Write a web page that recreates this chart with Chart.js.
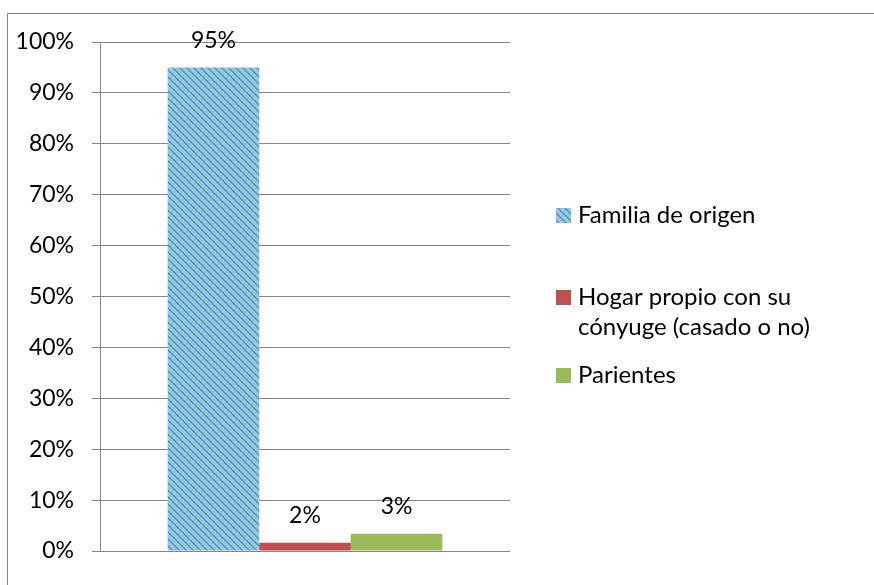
<!DOCTYPE html>
<html>
<head>
<meta charset="utf-8">
<script src="https://cdn.jsdelivr.net/npm/chart.js@4.4.1/dist/chart.umd.min.js"></script>
<style>
  body { margin: 0; background: #fff; }
  #wrap { width: 874px; height: 585px; }
</style>
</head>
<body>
<div id="wrap"><canvas id="chart" width="874" height="585"></canvas></div>
<script>
// data
const categories = [''];
const seriesNames = ['Familia de origen', 'Hogar propio con su cónyuge (casado o no)', 'Parientes'];
const familiaValues = [0.95];
const hogarValues = [0.016];
const parientesValues = [0.034];
const yTicks = [0, 0.1, 0.2, 0.3, 0.4, 0.5, 0.6, 0.7, 0.8, 0.9, 1];

const FONT = '23px Lato';
const LEGEND_FONT = '24px Lato';

function makeHatch() {
    const c = document.createElement('canvas');
    c.width = 7;
    c.height = 7;
    const g = c.getContext('2d');
    g.fillStyle = '#93cddd';
    g.fillRect(0, 0, 7, 7);
    g.strokeStyle = '#5a8fd0';
    g.lineWidth = 1.5;
    g.beginPath();
    g.moveTo(-1, -1); g.lineTo(8, 8);
    g.moveTo(-1, 6); g.lineTo(1, 8);
    g.moveTo(6, -1); g.lineTo(8, 1);
    g.stroke();
    return document.getElementById('chart').getContext('2d').createPattern(c, 'repeat');
}
const hatch = makeHatch();

// outer frame of the chart object
const framePlugin = {
    id: 'frame',
    beforeDraw(chart) {
        const ctx = chart.ctx;
        ctx.save();
        ctx.fillStyle = '#fff';
        ctx.fillRect(0, 0, chart.width, chart.height);
        ctx.strokeStyle = '#868686';
        ctx.lineWidth = 1;
        ctx.strokeRect(7.5, 13.5, 900, 600);
        ctx.restore();
    }
};

// value labels above the bars
const valueLabels = {
    id: 'valueLabels',
    afterDatasetsDraw(chart) {
        const ctx = chart.ctx;
        ctx.save();
        ctx.font = FONT;
        ctx.fillStyle = '#000';
        ctx.textAlign = 'center';
        ctx.textBaseline = 'middle';
        chart.data.datasets.forEach((ds, i) => {
            chart.getDatasetMeta(i).data.forEach((bar, j) => {
                ctx.fillText(Math.round(ds.data[j] * 100) + '%', bar.x, bar.y - 27);
            });
        });
        ctx.restore();
    }
};

// legend on the right, with wrapped text like the original
const sideLegend = {
    id: 'sideLegend',
    afterDraw(chart) {
        const ctx = chart.ctx;
        const rows = [215, 297, 375];
        ctx.save();
        ctx.font = LEGEND_FONT;
        ctx.textBaseline = 'middle';
        chart.data.datasets.forEach((ds, i) => {
            const y = rows[i];
            ctx.fillStyle = ds.backgroundColor;
            ctx.fillRect(556, y - 7, 15, 15);
            ctx.fillStyle = '#000';
            // simple word wrap
            const words = ds.label.split(' ');
            let line = '';
            let ly = y;
            words.forEach(w => {
                const test = line ? line + ' ' + w : w;
                if (ctx.measureText(test).width > 275 && line) {
                    ctx.fillText(line, 578, ly);
                    line = w;
                    ly += 30;
                } else {
                    line = test;
                }
            });
            ctx.fillText(line, 578, ly);
        });
        ctx.restore();
    }
};

new Chart(document.getElementById('chart'), {
    type: 'bar',
    data: {
        labels: categories,
        datasets: [
            { label: seriesNames[0], data: familiaValues, backgroundColor: hatch },
            { label: seriesNames[1], data: hogarValues, backgroundColor: '#c0504d' },
            { label: seriesNames[2], data: parientesValues, backgroundColor: '#9bbb59' }
        ]
    },
    options: {
        responsive: false,
        animation: false,
        devicePixelRatio: 1,
        layout: { padding: { left: 0, right: 364, top: 42, bottom: 26 } },
        datasets: { bar: { categoryPercentage: 0.67, barPercentage: 1 } },
        plugins: {
            legend: { display: false },
            tooltip: { enabled: false }
        },
        scales: {
            x: {
                display: true,
                ticks: { display: false },
                grid: { display: false },
                border: { display: false }
            },
            y: {
                min: 0,
                max: 1,
                afterBuildTicks(scale) {
                    scale.ticks = yTicks.map(v => ({ value: v }));
                },
                afterFit(scale) {
                    scale.width = 100;
                },
                ticks: {
                    padding: 18,
                    color: '#000',
                    font: { family: 'Lato', size: 23 },
                    callback: v => Math.round(v * 100) + '%'
                },
                grid: { color: '#868686', lineWidth: 1, tickLength: 8 },
                border: { display: true, color: '#868686', width: 1 }
            }
        }
    },
    plugins: [framePlugin, valueLabels, sideLegend]
});
</script>
</body>
</html>
